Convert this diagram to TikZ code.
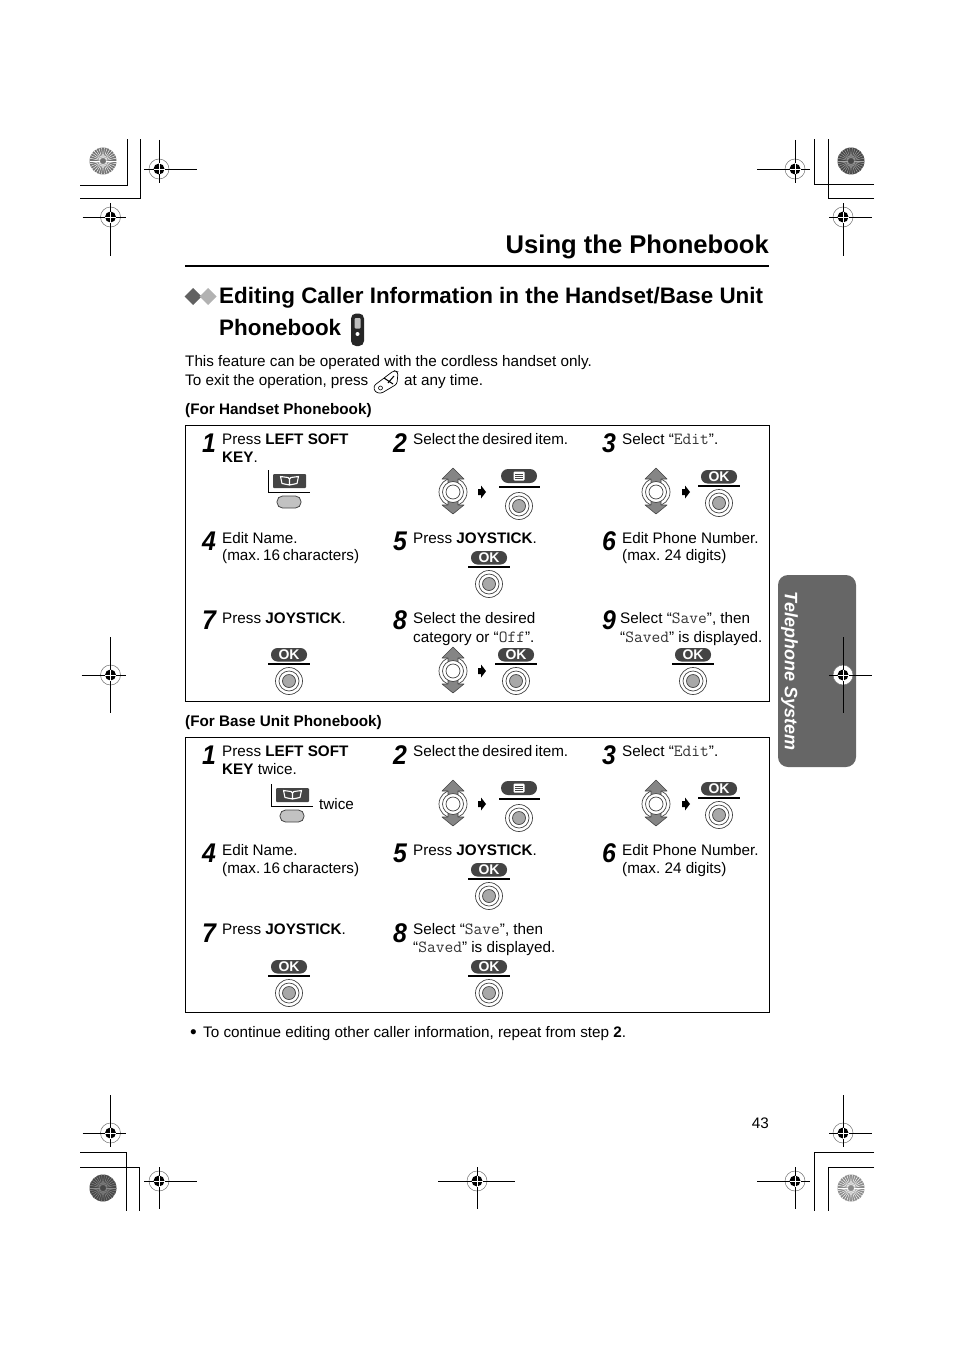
\documentclass[tikz,border=0pt]{standalone}
\usepackage{graphicx}
\usepackage{fontspec}
\setmainfont{Liberation Sans}
\frenchspacing
\newcommand{\lcd}[1]{{\fontsize{17}{18}\selectfont\ttfamily\color{black!80}#1}}
\newcommand{\stepdigit}[1]{\scalebox{0.92}[1]{#1}}
\newcommand{\tightwords}[1]{{\spaceskip=2.8pt\relax #1}}
\definecolor{tabgray}{HTML}{666666}
\definecolor{keydark}{HTML}{444444}
\definecolor{keygray}{HTML}{A8A8A8}
\tikzset{
  txt/.style={anchor=base west, inner sep=0pt, font=\fontsize{15.25}{18}\selectfont},
  subhead/.style={txt, font=\fontsize{15.25}{18}\selectfont\bfseries},
  headline/.style={txt, font=\fontsize{22.4}{28}\selectfont\bfseries},
  stepnum/.style={inner sep=0pt, font=\fontsize{27}{30}\selectfont\bfseries\itshape},
  frame/.style={draw, line width=0.9pt},
  okkey/.pic={
    \fill[keydark, rounded corners=6.5pt] (-18,-16) rectangle (18,-2.5);
    \node[inner sep=0pt, text=white, font=\fontsize{14}{15}\selectfont\bfseries] (-label) at (0,-9) {OK};
    \draw[line width=1.1pt] (-21,0) -- (21,0);
    \draw[keydark, fill=white, line width=0.7pt] (0,17) circle (13.5pt);
    \draw[keydark, fill=white, line width=0.7pt] (0,17) circle (10pt);
    \draw[keydark, fill=keygray, line width=0.7pt] (0,17) circle (6.5pt);
  },
  menukey/.pic={
    \fill[keydark, rounded corners=7pt] (-18,-18) rectangle (18,-4);
    \fill[white, rounded corners=1pt] (-5.5,-15.5) rectangle (5.5,-6.5);
    \draw[keydark, line width=0.5pt] (-4,-13) -- (4,-13) (-4,-11) -- (4,-11) (-4,-9) -- (4,-9);
    \draw[line width=1.1pt] (-20,0) -- (21,0);
    \draw[keydark, fill=white, line width=0.7pt] (0,19) circle (13.5pt);
    \draw[keydark, fill=white, line width=0.7pt] (0,19) circle (10pt);
    \draw[keydark, fill=keygray, line width=0.7pt] (0,19) circle (6.5pt);
  },
  softkey/.pic={
    \draw[line width=0.9pt] (0,-22) -- (0,0) -- (42,0);
    \fill[keydark, rounded corners=1pt] (5,-18) rectangle (38,-4);
    \draw[white, line width=1.1pt, line join=round] (21.5,-7) -- (14,-8.5) -- (12.5,-15.5) -- (20,-14.5) -- (21.5,-13) -- (23,-14.5) -- (30.5,-15.5) -- (29,-8.5) -- cycle (21.5,-13) -- (21.5,-7);
    \draw[keydark, fill=keygray!70, line width=0.8pt, rounded corners=5.5pt] (9,4) rectangle (33,16);
  },
  joystick/.pic={
    \draw[keydark, fill=white, line width=0.7pt] (0,0) circle (14pt);
    \draw[keydark, fill=black!48, line width=0.6pt, line join=round] (-5,-9) -- (-5,-13) -- (-11,-13) -- (0,-24) -- (11,-13) -- (5,-13) -- (5,-9) -- cycle;
    \draw[keydark, fill=black!48, line width=0.6pt, line join=round] (-5,9) -- (-5,13) -- (-11,13) -- (0,22) -- (11,13) -- (5,13) -- (5,9) -- cycle;
    \draw[keydark, fill=white, line width=0.7pt] (0,0) circle (10.5pt);
    \draw[keydark, fill=white, line width=0.7pt] (0,0) circle (7pt);
  },
  nextarrow/.pic={
    \fill (-4,-3) -- (-1,-3) -- (-1,-6.5) -- (4,0) -- (-1,6.5) -- (-1,3) -- (-4,3) -- cycle;
  }
}
\begin{document}
\begin{tikzpicture}[x=1pt, y=-1pt]
  \useasboundingbox (0,0) rectangle (954,1351);
  % side tab
  \fill[tabgray, rounded corners=10pt] (778,575) rectangle (856,767);
  \node[rotate=-90, inner sep=0pt, text=white, font=\fontsize{18}{20}\selectfont\bfseries\itshape] (tab) at (789.5,671) {Telephone System};
  % printer marks
  \foreach \bx/\by/\bfill/\bspoke in {103/161/black!55/white, 851/161/black!72/black!35, 103/1188/black!72/black!45, 851/1188/black!45/white}{
    \fill[\bfill] (\bx,\by) circle (13.5pt);
    \foreach \ang in {0,12,...,348}
      \draw[\bspoke, line width=0.45pt] (\bx,\by) ++(\ang:3pt) -- ++(\ang:10.5pt);
  }
  \draw[line width=0.9pt] (80,185) -- (127,185) -- (127,139);
  \draw[line width=0.9pt] (80,198) -- (140,198) -- (140,139);
  \draw[line width=0.9pt] (874,184) -- (814,184) -- (814,139);
  \draw[line width=0.9pt] (874,198) -- (828,198) -- (828,139);
  \draw[line width=0.9pt] (80,1152) -- (126,1152) -- (126,1211);
  \draw[line width=0.9pt] (80,1167) -- (139,1167) -- (139,1211);
  \draw[line width=0.9pt] (874,1152) -- (814,1152) -- (814,1211);
  \draw[line width=0.9pt] (874,1167) -- (828,1167) -- (828,1211);
  \foreach \rx/\ry/\rl/\rr/\ru/\rd in {159/169/15/38/29/14, 110.5/217/28/15/14/39, 795/169/38/15/29/14, 843/217/14/29/14/39,
      110.5/1133/28/15/38/14, 159/1181/15/38/14/28, 843/1133/14/29/38/14, 795/1181/38/15/14/28,
      477/1181/39/38/14/28, 110.5/675/29/15/38/38, 843/675/14/29/38/38}{
    \draw[black!55, fill=white, line width=0.5pt] (\rx,\ry) circle (10pt);
    \draw[line width=0.8pt] ({\rx-\rl},\ry) -- ({\rx+\rr},\ry) ({\rx},{\ry-\ru}) -- ({\rx},{\ry+\rd});
    \fill (\rx,\ry) circle (5.5pt);
    \draw[white, line width=0.5pt] ({\rx-5.5},\ry) -- ({\rx+5.5},\ry) ({\rx},{\ry-5.5}) -- ({\rx},{\ry+5.5});
  }
  % title and intro
  \node[anchor=base east, inner sep=0pt, font=\fontsize{25.6}{30}\selectfont\bfseries] (title) at (769,253.5) {Using the Phonebook};
  \draw[line width=1.6pt] (185,266) -- (769,266);
  \fill[black!62] (193,288) -- (201.5,296.5) -- (193,305) -- (184.5,296.5) -- cycle;
  \fill[black!30] (208,288) -- (216.5,296.5) -- (208,305) -- (199.5,296.5) -- cycle;
  \node[headline] (headA) at (219,303) {Editing Caller Information in the Handset/Base Unit};
  \node[headline] (headB) at (219,335) {Phonebook};
  \fill[black!85, rounded corners=5pt] (351,313.5) rectangle (364,346);
  \fill[black!25, rounded corners=1pt] (354.5,318) rectangle (360.5,328.5);
  \fill[white] (357.5,334) circle (2pt);
  \node[txt] (introA) at (185,366) {This feature can be operated with the cordless handset only.};
  \node[txt] (introB) at (185,385) {To exit the operation, press};
  \draw[line width=0.7pt, rounded corners=2.5pt] (373.5,386) -- (394,370.5) -- (398,372) -- (397,384) -- (381,393.5) -- (375,392) -- cycle;
  \draw[line width=0.6pt] (380.5,388) circle (2pt);
  \draw[line width=1pt] (384,378) -- (393,384) (388,383) -- (394,376);
  \node[txt] (introC) at (404,385) {at any time.};
  % handset phonebook
  \node[subhead] (handset) at (185,414) {(For Handset Phonebook)};
  \draw[frame] (185.5,425.5) rectangle (769.5,701.5);
  \foreach \num/\nx/\ny in {1/209/443, 2/400/443, 3/609/443, 4/209/541, 5/400/541, 6/609/541, 7/209/620, 8/400/620, 9/609/620}
    \node[stepnum] (numA\num) at (\nx,\ny) {\stepdigit{\num}};
  \node[txt] (stepAa) at (222,444) {Press \textbf{LEFT SOFT}};
  \node[txt] (stepAb) at (222,462) {\textbf{KEY}.};
  \node[txt] (stepAc) at (413,444) {\tightwords{Select the desired item.}};
  \node[txt] (stepAd) at (622,444) {Select “\lcd{Edit}”.};
  \node[txt] (stepAe) at (222,543) {Edit Name.};
  \node[txt] (stepAf) at (222,560) {\tightwords{(max. 16 characters)}};
  \node[txt] (stepAg) at (413,543) {Press \textbf{JOYSTICK}.};
  \node[txt] (stepAh) at (622,543) {Edit Phone Number.};
  \node[txt] (stepAi) at (622,560) {(max. 24 digits)};
  \node[txt] (stepAj) at (222,623) {Press \textbf{JOYSTICK}.};
  \node[txt] (stepAk) at (413,623) {Select the desired};
  \node[txt] (stepAl) at (413,642) {category or “\lcd{Off}”.};
  \node[txt] (stepAm) at (620,623) {Select “\lcd{Save}”, then};
  \node[txt] (stepAn) at (620,642) {“\lcd{Saved}” is displayed.};
  \pic (softA) at (268,492) {softkey};
  \pic (joyAa) at (453,492) {joystick};
  \pic at (482,492) {nextarrow};
  \pic (menuA) at (519,487) {menukey};
  \pic (joyAb) at (656,492) {joystick};
  \pic at (686,492) {nextarrow};
  \pic (okAa) at (719,486) {okkey};
  \pic (okAb) at (489,567) {okkey};
  \pic (okAc) at (289,664) {okkey};
  \pic (joyAc) at (453,671) {joystick};
  \pic at (482,671) {nextarrow};
  \pic (okAd) at (516,664) {okkey};
  \pic (okAe) at (693,664) {okkey};
  % base unit phonebook
  \node[subhead] (baseunit) at (185,726) {(For Base Unit Phonebook)};
  \draw[frame] (185.5,737.5) rectangle (769.5,1012.5);
  \foreach \num/\nx/\ny in {1/209/755, 2/400/755, 3/609/755, 4/209/853, 5/400/853, 6/609/853, 7/209/933, 8/400/933}
    \node[stepnum] (numB\num) at (\nx,\ny) {\stepdigit{\num}};
  \node[txt] (stepBa) at (222,756) {Press \textbf{LEFT SOFT}};
  \node[txt] (stepBb) at (222,774) {\textbf{KEY} twice.};
  \node[txt] (stepBc) at (413,756) {\tightwords{Select the desired item.}};
  \node[txt] (stepBd) at (622,756) {Select “\lcd{Edit}”.};
  \node[txt] (stepBe) at (222,855) {Edit Name.};
  \node[txt] (stepBf) at (222,873) {\tightwords{(max. 16 characters)}};
  \node[txt] (stepBg) at (413,855) {Press \textbf{JOYSTICK}.};
  \node[txt] (stepBh) at (622,855) {Edit Phone Number.};
  \node[txt] (stepBi) at (622,873) {(max. 24 digits)};
  \node[txt] (stepBj) at (222,934) {Press \textbf{JOYSTICK}.};
  \node[txt] (stepBk) at (413,934) {Select “\lcd{Save}”, then};
  \node[txt] (stepBl) at (413,952) {“\lcd{Saved}” is displayed.};
  \node[txt] (twice) at (319,809) {twice};
  \pic (softB) at (271,806) {softkey};
  \pic (joyBa) at (453,804) {joystick};
  \pic at (482,804) {nextarrow};
  \pic (menuB) at (519,799) {menukey};
  \pic (joyBb) at (656,804) {joystick};
  \pic at (686,804) {nextarrow};
  \pic (okBa) at (719,798) {okkey};
  \pic (okBb) at (489,879) {okkey};
  \pic (okBc) at (289,976) {okkey};
  \pic (okBd) at (489,976) {okkey};
  % foot
  \node[txt, font=\fontsize{19}{20}\selectfont] (bullet) at (190,1038) {•};
  \node[txt] (foot) at (203,1037) {To continue editing other caller information, repeat from step \textbf{2}.};
  \node[txt, anchor=base east] (page) at (769,1128) {43};
\end{tikzpicture}
\end{document}
